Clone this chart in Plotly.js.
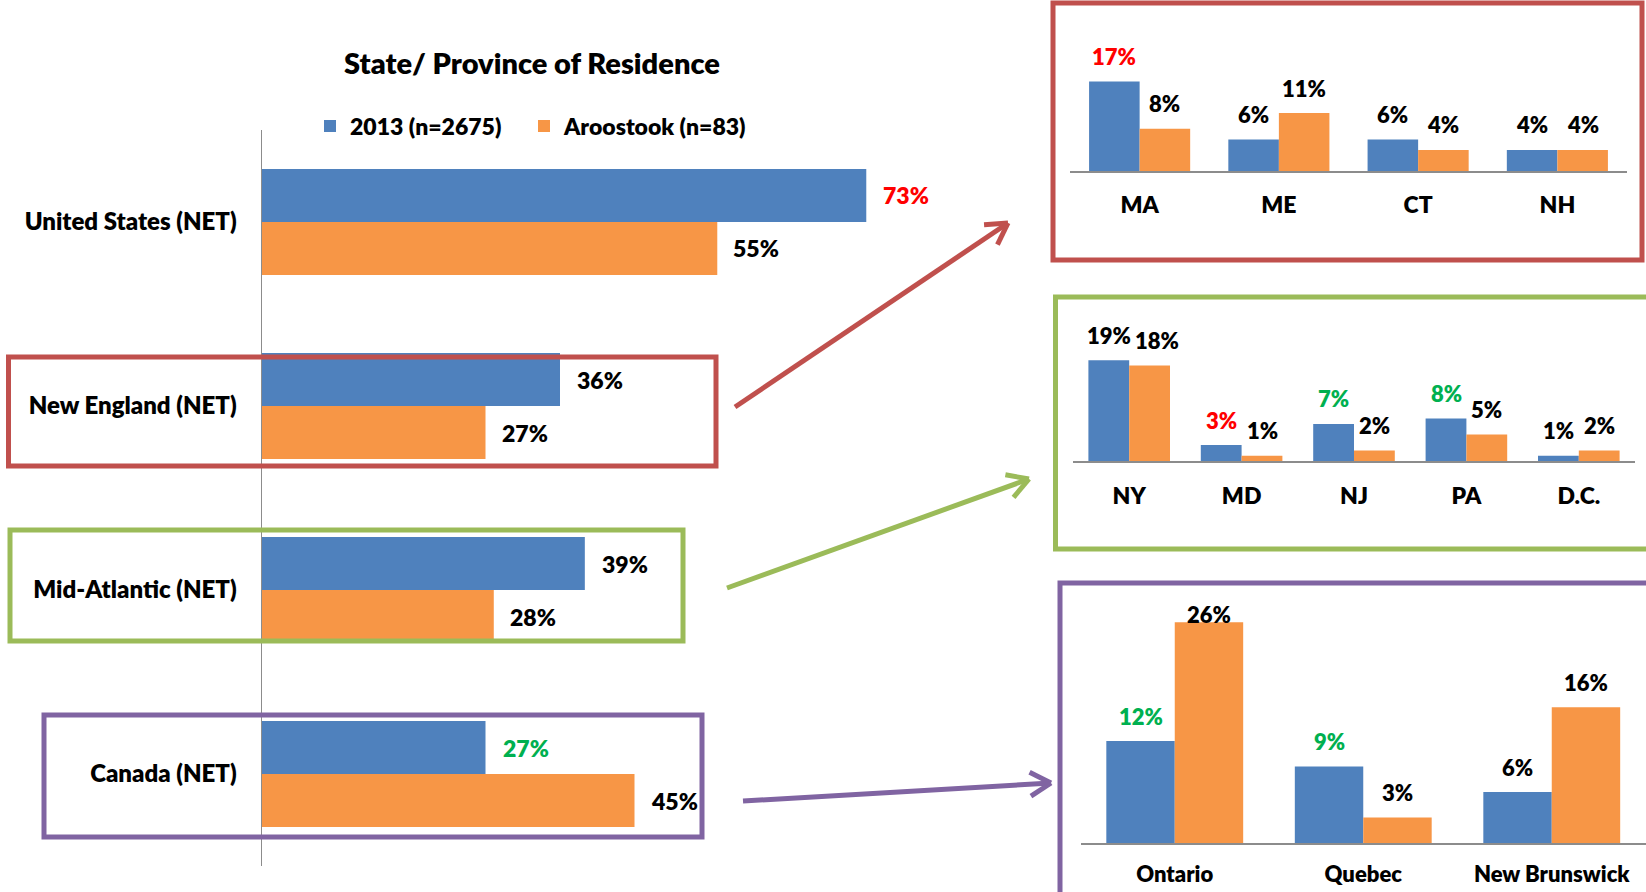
<!DOCTYPE html>
<html>
<head>
<meta charset="utf-8">
<script src="https://cdn.plot.ly/plotly-3.0.1.min.js"></script>
<style>html,body{margin:0;padding:0;background:#fff;}#chart{width:1646px;height:892px;}</style>
</head>
<body>
<div id="chart"></div>
<script>
// ---------------- DATA ----------------
const seriesNames = ['2013 (n=2675)', 'Aroostook (n=83)'];

const mainCats = ['United States (NET)', 'New England (NET)', 'Mid-Atlantic (NET)', 'Canada (NET)'];
const main2013 = [73, 36, 39, 27];
const mainAroo = [55, 27, 28, 45];

const neStates = ['MA', 'ME', 'CT', 'NH'];
const ne2013 = [17, 6, 6, 4];
const neAroo = [8, 11, 4, 4];

const maStates = ['NY', 'MD', 'NJ', 'PA', 'D.C.'];
const ma2013 = [19, 3, 7, 8, 1];
const maAroo = [18, 1, 2, 5, 2];

const caProvs = ['Ontario', 'Quebec', 'New Brunswick'];
const ca2013 = [12, 9, 6];
const caAroo = [26, 3, 16];

// ---------------- STYLE ----------------
const W = 1646, H = 892;
const BLUE = '#4F81BD', ORANGE = '#F79646';
const RED = '#FF0000', GREEN = '#00B050', BLACK = '#000000';
const FONT = 'Lato, "Open Sans", sans-serif';
const WEIGHT = 800;
const mainColors2013 = [RED, BLACK, BLACK, GREEN];
const neColors2013 = [RED, BLACK, BLACK, BLACK];
const maColors2013 = [BLACK, RED, GREEN, GREEN, BLACK];
const caColors2013 = [GREEN, GREEN, BLACK];

const px = x => x / W;           // pixel -> paper x
const py = y => 1 - y / H;       // pixel -> paper y

const traces = [];
const annotations = [];
const shapes = [];

// ---------------- MAIN CHART ----------------
const mainW = 0.288;
traces.push({
  type: 'bar', orientation: 'h', name: seriesNames[0],
  y: mainCats, x: main2013, width: mainW, offset: -mainW,
  marker: {color: BLUE}, xaxis: 'x', yaxis: 'y', showlegend: true, legend: 'legend'
});
traces.push({
  type: 'bar', orientation: 'h', name: seriesNames[1],
  y: mainCats, x: mainAroo, width: mainW, offset: 0,
  marker: {color: ORANGE}, xaxis: 'x', yaxis: 'y', showlegend: true, legend: 'legend2'
});
main2013.forEach((v, i) => annotations.push({
  xref: 'x', yref: 'y', x: v, y: i - mainW / 2, text: v + '%', showarrow: false,
  xanchor: 'left', yanchor: 'middle', xshift: 15,
  font: {family: FONT, size: 23, color: mainColors2013[i], weight: WEIGHT}
}));
mainAroo.forEach((v, i) => annotations.push({
  xref: 'x', yref: 'y', x: v, y: i + mainW / 2, text: v + '%', showarrow: false,
  xanchor: 'left', yanchor: 'middle', xshift: 14,
  font: {family: FONT, size: 23, color: BLACK, weight: WEIGHT}
}));

// ---------------- SIDE PANELS ----------------
const panels = [
  {cats: neStates, a: ne2013, b: neAroo, colA: neColors2013, nudgeB: [0, 0, 0, 0],
   x0: 1070, x1: 1627, base: 171, top: 65, ppu: 5.27, standoff: 12, tick: 23, capPx: 999},
  {cats: maStates, a: ma2013, b: maAroo, colA: maColors2013, nudgeB: [7, 0, 0, 0, 0],
   x0: 1073, x1: 1635, base: 461, top: 344, ppu: 5.30, standoff: 13, tick: 23, capPx: 999},
  {cats: caProvs, a: ca2013, b: caAroo, colA: caColors2013, nudgeB: [0, 0, 0],
   x0: 1080.5, x1: 1646, base: 843, top: 605, ppu: 8.49, standoff: 11, tick: 22, capPx: 229}
];
const panelW = 0.363;
const layoutAxes = {};
panels.forEach((p, k) => {
  const n = k + 2;
  const xa = 'x' + n, ya = 'y' + n;
  const R = (p.base - p.top) / p.ppu;
  traces.push({type: 'bar', name: seriesNames[0], x: p.cats, y: p.a, width: panelW, offset: -panelW,
    marker: {color: BLUE}, xaxis: xa, yaxis: ya, showlegend: false});
  traces.push({type: 'bar', name: seriesNames[1], x: p.cats, y: p.b, width: panelW, offset: 0,
    marker: {color: ORANGE}, xaxis: xa, yaxis: ya, showlegend: false});
  const lab = (v, i, dx, color, nudge) => annotations.push({
    xref: xa, yref: ya, x: i + dx, y: v, text: v + '%', showarrow: false,
    xanchor: 'center', yanchor: 'middle', xshift: nudge, yshift: Math.min(25, p.capPx - v * p.ppu),
    font: {family: FONT, size: 22, color: color, weight: WEIGHT}
  });
  p.a.forEach((v, i) => lab(v, i, -panelW / 2, p.colA[i], 0));
  p.b.forEach((v, i) => lab(v, i, panelW / 2, BLACK, p.nudgeB[i]));
  layoutAxes['xaxis' + n] = {
    domain: [px(p.x0), Math.min(1, px(p.x1))], anchor: ya, type: 'category',
    range: [-0.5, p.cats.length - 0.5], showgrid: false, zeroline: false,
    showline: true, linecolor: '#8C8C8C', linewidth: 2, ticks: '',
    ticklabelstandoff: p.standoff,
    tickfont: {family: FONT, size: p.tick, color: BLACK, weight: WEIGHT}, fixedrange: true
  };
  layoutAxes['yaxis' + n] = {
    domain: [py(p.base), py(p.top)], anchor: xa, range: [0, R], visible: false, fixedrange: true
  };
});

// ---------------- BOXES ----------------
const rect = (x0, y0, x1, y1, color) => shapes.push({
  type: 'rect', xref: 'paper', yref: 'paper', x0: px(x0), x1: px(x1), y0: py(y1), y1: py(y0),
  line: {color: color, width: 5}, fillcolor: 'rgba(0,0,0,0)', layer: 'above'
});
const C_RED = '#C0504D', C_GREEN = '#9BBB59', C_PURPLE = '#8064A2';
rect(8.5, 357, 716, 466, C_RED);
rect(10, 530, 683, 641, C_GREEN);
rect(44, 715, 702, 837, C_PURPLE);
rect(1053, 3, 1642, 260, C_RED);
rect(1055.5, 297, 1670, 549, C_GREEN);
rect(1060, 583, 1670, 910, C_PURPLE);

// ---------------- ARROWS ----------------
const seg = (x0, y0, x1, y1, color) => shapes.push({
  type: 'line', xref: 'paper', yref: 'paper', x0: px(x0), y0: py(y0), x1: px(x1), y1: py(y1),
  line: {color: color, width: 5}, layer: 'above'
});
const arrow = (x0, y0, x1, y1, color) => {
  seg(x0, y0, x1, y1, color);
  const ang = Math.atan2(y0 - y1, x0 - x1);
  const L = 24, a = Math.PI / 6;
  seg(x1, y1, x1 + L * Math.cos(ang + a), y1 + L * Math.sin(ang + a), color);
  seg(x1, y1, x1 + L * Math.cos(ang - a), y1 + L * Math.sin(ang - a), color);
};
arrow(735, 407, 1008, 223, C_RED);
arrow(727, 588, 1029, 479, C_GREEN);
arrow(743, 801, 1051, 783, C_PURPLE);

// ---------------- LAYOUT ----------------
const legendStyle = (x) => ({
  orientation: 'h', x: x, y: py(126), xanchor: 'left', yanchor: 'middle',
  font: {family: FONT, size: 23, color: BLACK, weight: WEIGHT},
  bgcolor: 'rgba(0,0,0,0)', itemclick: false, itemdoubleclick: false
});
const layout = Object.assign({
  width: W, height: H,
  margin: {l: 0, r: 0, t: 0, b: 0},
  paper_bgcolor: '#ffffff', plot_bgcolor: 'rgba(0,0,0,0)',
  font: {family: FONT, color: BLACK},
  title: {
    text: 'State/ Province of Residence', xref: 'paper', yref: 'paper',
    x: px(532), y: py(64), xanchor: 'center', yanchor: 'middle',
    font: {family: FONT, size: 29, color: BLACK, weight: WEIGHT}
  },
  barmode: 'group',
  showlegend: true,
  legend: legendStyle(px(310)),
  legend2: legendStyle(px(524)),
  xaxis: {
    domain: [px(262), px(1007)], anchor: 'y', range: [0, 90], visible: false, fixedrange: true
  },
  yaxis: {
    domain: [py(866), py(130)], anchor: 'x', type: 'category', range: [3.5, -0.5],
    showgrid: false, zeroline: false, showline: true, linecolor: '#8C8C8C', linewidth: 1.5,
    ticks: '', ticklabelstandoff: 19,
    tickfont: {family: FONT, size: 24, color: BLACK, weight: WEIGHT}, fixedrange: true
  },
  annotations: annotations,
  shapes: shapes
}, layoutAxes);

Plotly.newPlot('chart', traces, layout, {staticPlot: true, displayModeBar: false});
</script>
</body>
</html>
